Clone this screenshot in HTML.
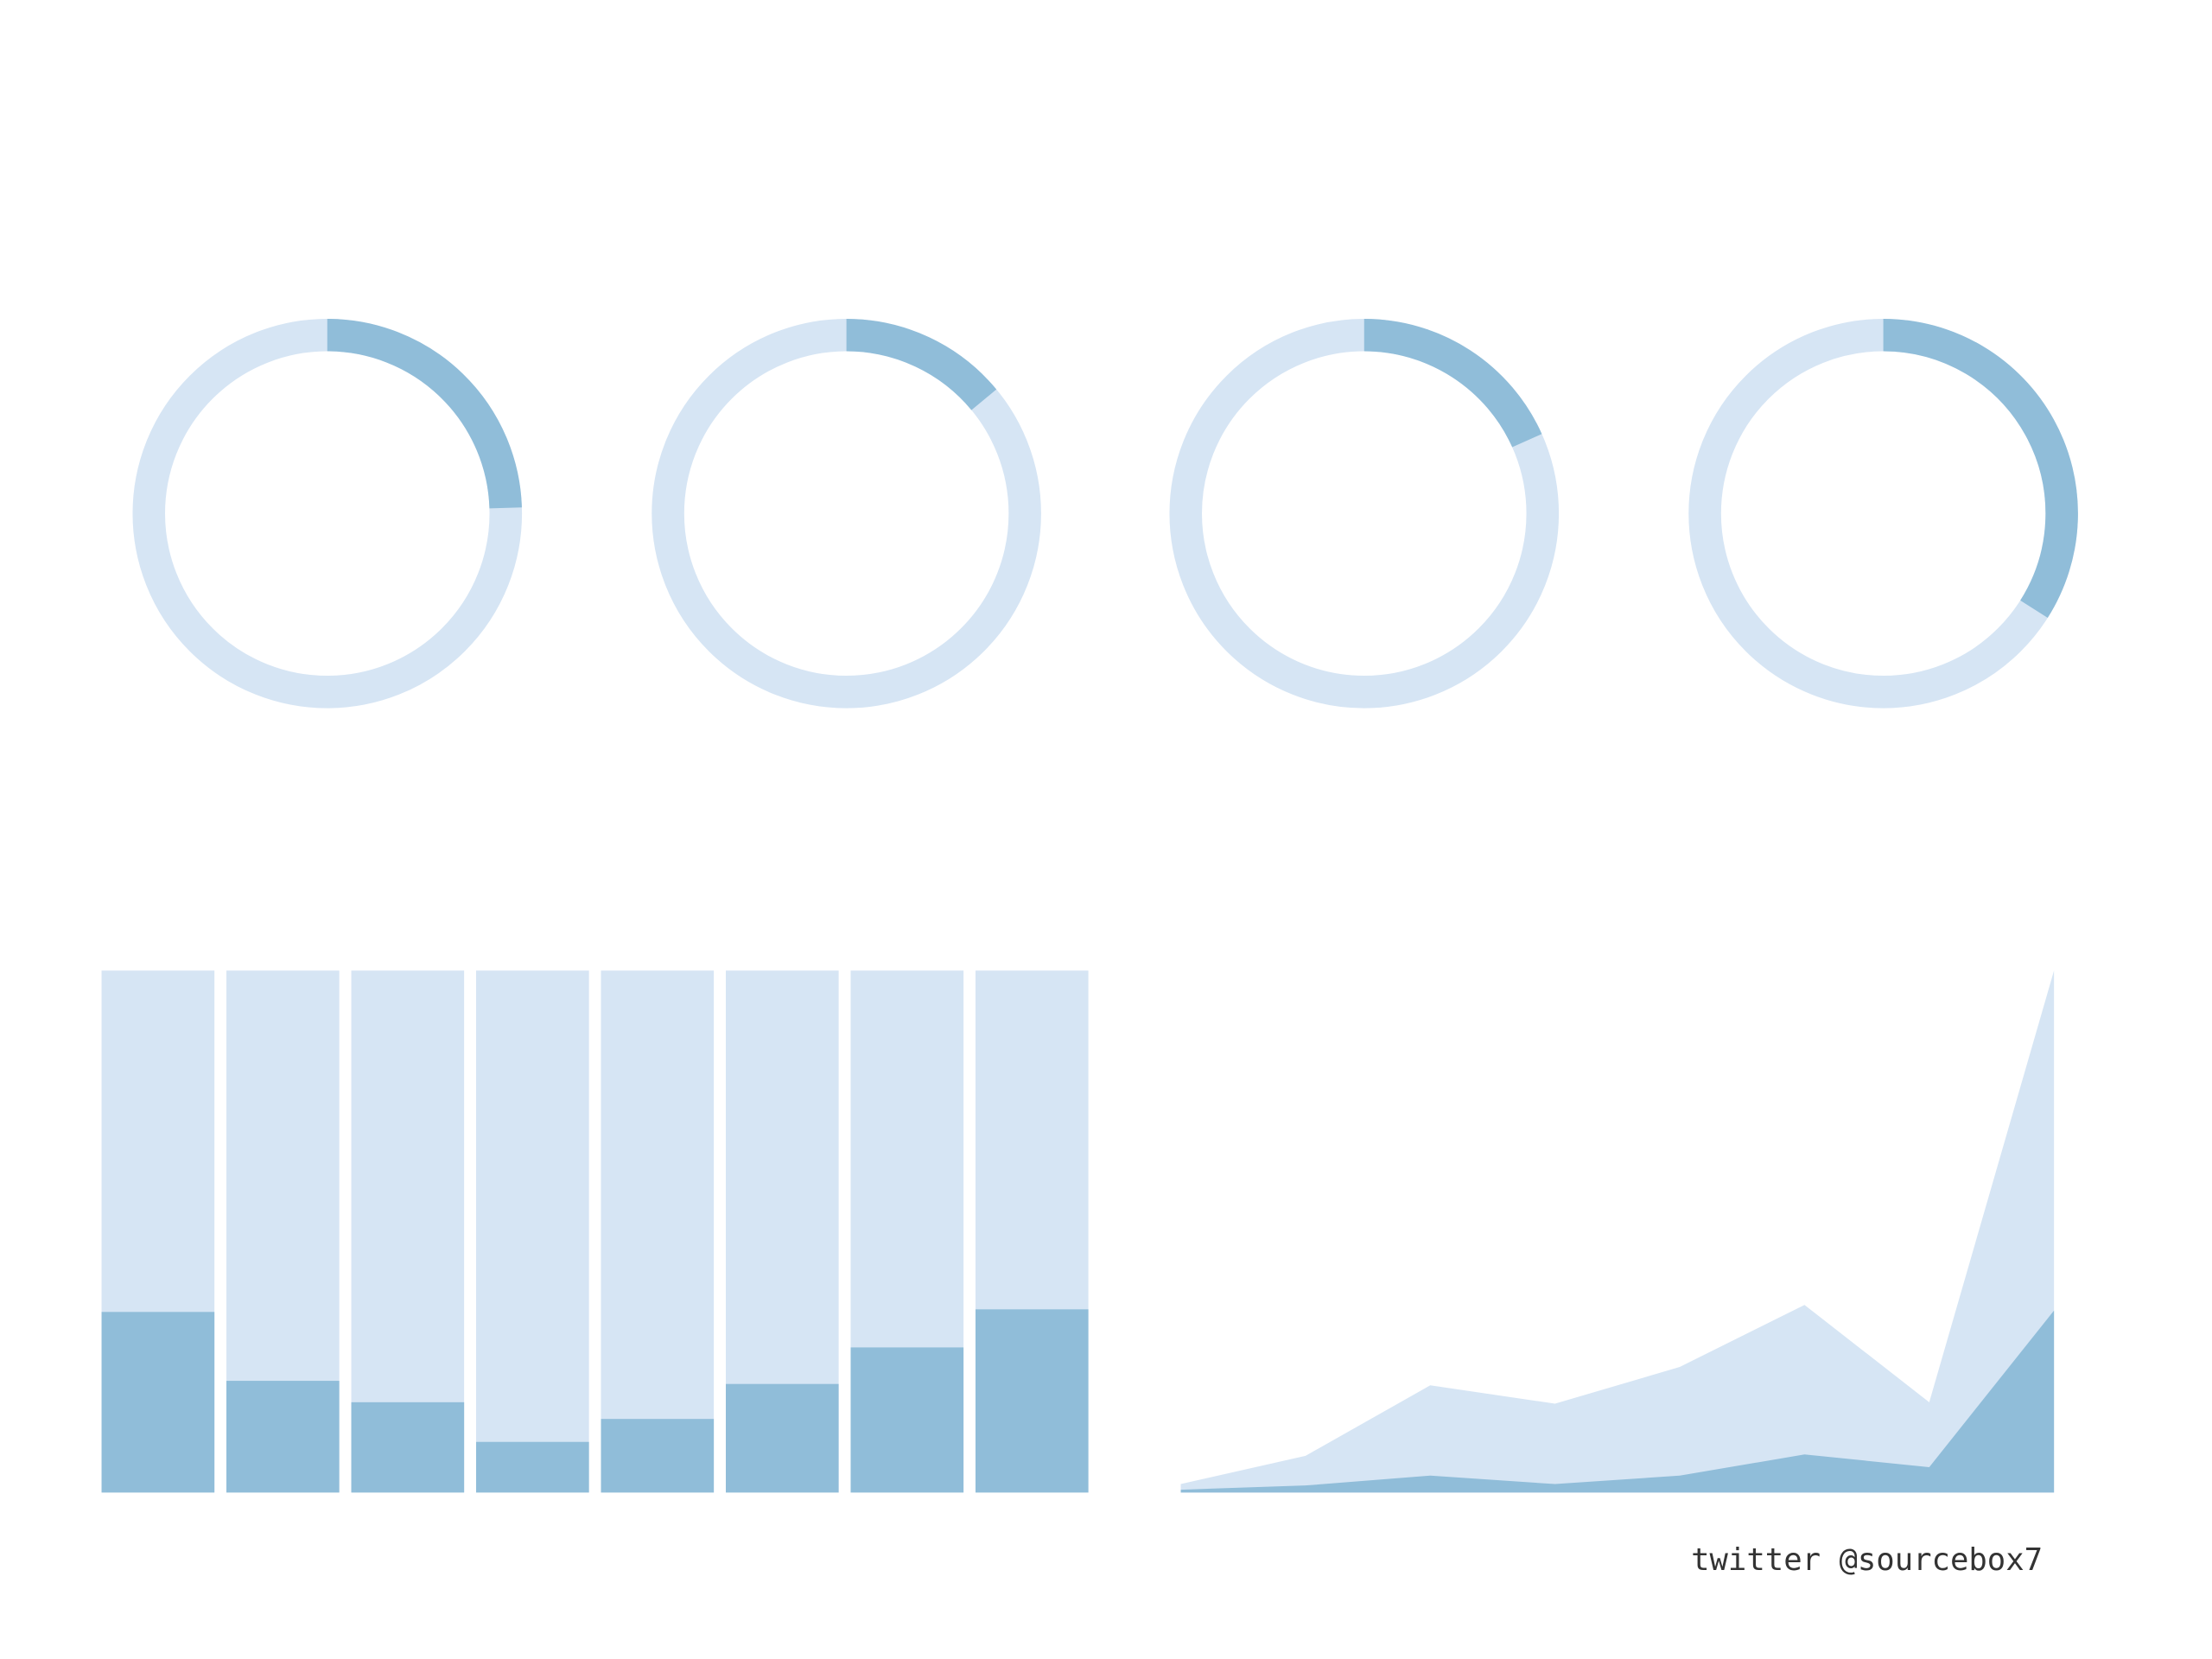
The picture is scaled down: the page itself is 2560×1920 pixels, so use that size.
<!DOCTYPE html>
<html><head><meta charset="utf-8"><style>
html,body{margin:0;padding:0;background:#fff;}
svg{display:block;}
</style></head><body>
<svg id="chart" width="2560" height="1920" viewBox="0 0 1568 1176" preserveAspectRatio="none" xmlns="http://www.w3.org/2000/svg">
<g id="donuts"></g>
<g id="bars"></g>
<g id="area"></g>
<text x="1448" y="1113" text-anchor="end" font-family="'DejaVu Sans Mono','Liberation Mono',monospace" font-size="21.8" fill="#333">twitter @sourcebox7</text>
</svg>
<script>
const donutFractions = [0.245, 0.14, 0.183, 0.34];
const barCategories = ['b1','b2','b3','b4','b5','b6','b7','b8'];
const barValues = [0.346, 0.214, 0.173, 0.097, 0.141, 0.208, 0.278, 0.351];
const areaCategories = ['p1','p2','p3','p4','p5','p6','p7','p8'];
const areaTotal = [6, 26, 76, 63, 89, 133, 64, 370];
const areaPart = [2, 5, 12, 6, 12, 27, 18, 129];

const NS = 'http://www.w3.org/2000/svg';
const LIGHT = '#d6e5f4', DARK = '#90bdd9';
function mk(tag, attrs, parent){ const e=document.createElementNS(NS,tag); for(const k in attrs) e.setAttribute(k,attrs[k]); parent.appendChild(e); return e; }

// donuts
const dg = document.getElementById('donuts');
const cxs = [232, 600, 967, 1335], cy = 364, rm = 126.5, sw = 23;
donutFractions.forEach((f,i)=>{
  const cx = cxs[i];
  const ring = mk('circle',{cx:cx,cy:cy,r:rm,fill:'none',stroke:LIGHT,'stroke-width':sw},dg);
  
  
  const a = f*2*Math.PI;
  const x = cx + rm*Math.sin(a), y = cy - rm*Math.cos(a);
  const large = f>0.5?1:0;
  const arc = mk('path',{d:`M${cx} ${cy-rm} A${rm} ${rm} 0 ${large} 1 ${x} ${y}`,fill:'none',stroke:DARK,'stroke-width':sw},dg);
  
  
});

// bars
const bg = document.getElementById('bars');
const bx0 = 72, bstep = 88.5, bw = 80, btop = 688, bbot = 1058;
const by = v => bbot - v*(bbot-btop);
barCategories.forEach((c,i)=>{
  const x = bx0 + i*bstep;
  const bgRect = mk('rect',{x:x,y:btop,width:bw,height:bbot-btop,fill:LIGHT},bg);
  
  
  const r = mk('rect',{x:x,y:by(barValues[i]),width:bw,height:bbot-by(barValues[i]),fill:DARK},bg);
  
  
});

// area
const ag = document.getElementById('area');
const ax0 = 837, ax1 = 1456, abot = 1058, atop = 688;
const maxV = Math.max(...areaTotal);
const axX = i => ax0 + i*(ax1-ax0)/(areaCategories.length-1);
const axY = v => abot - v/maxV*(abot-atop);
function areaPath(vals){
  let d = `M${axX(0)} ${abot}`;
  vals.forEach((v,i)=>{ d += ` L${axX(i)} ${axY(v)}`; });
  d += ` L${axX(vals.length-1)} ${abot} Z`;
  return d;
}
const a1 = mk('path',{d:areaPath(areaTotal),fill:LIGHT},ag);


const a2 = mk('path',{d:areaPath(areaPart),fill:DARK},ag);


</script>
</body></html>
